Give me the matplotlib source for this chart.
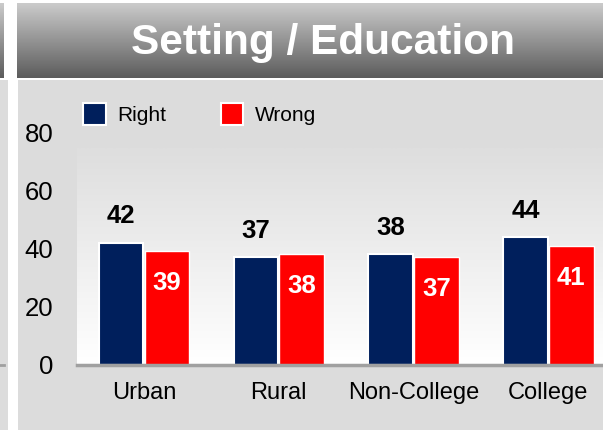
import numpy as np
import matplotlib.pyplot as plt
from matplotlib.colors import LinearSegmentedColormap
from matplotlib.patches import Rectangle
from matplotlib.lines import Line2D

plt.rcParams['font.family'] = ['Liberation Sans', 'DejaVu Sans']

categories = ["Urban", "Rural", "Non-College", "College"]
right_vals = [42, 37, 38, 44]
wrong_vals = [39, 38, 37, 41]
series_names = ["Right", "Wrong"]
title = "Setting / Education"

navy = "#001f5c"
red = "#ff0000"
panel = "#dcdcdc"

W, H = 603, 430
fig = plt.figure(figsize=(W / 100, H / 100), dpi=100)
fig.patch.set_facecolor("white")


def px(x0, y0, x1, y1):
    # pixel box (top-left origin) -> figure fraction rect
    return [x0 / W, 1 - y1 / H, (x1 - x0) / W, (y1 - y0) / H]


# background panels
fig.patches.append(Rectangle((0, 0), 8 / W, 1 - 80 / H, transform=fig.transFigure,
                             facecolor=panel, edgecolor="none", zorder=-5))
fig.patches.append(Rectangle((18 / W, 0), 1, 1 - 80 / H, transform=fig.transFigure,
                             facecolor=panel, edgecolor="none", zorder=-5))

# header bars with vertical gradient
head_cmap = LinearSegmentedColormap.from_list("head", ["#cbcbcb", "#5c5c5c"])
grad = np.linspace(0, 1, 100).reshape(-1, 1)
for rect in (px(0, 3, 4, 78), px(17, 3, 603, 78)):
    hax = fig.add_axes(rect)
    hax.imshow(grad, aspect="auto", cmap=head_cmap, extent=(0, 1, 0, 1))
    hax.axis("off")
hax.text(0.523, 0.47, title, color="white", fontsize=30.5, fontweight="bold",
         ha="center", va="center", transform=hax.transAxes)

# main plot
ax = fig.add_axes(px(77, 95, 603, 365))
ax.set_facecolor("none")
unit = 134.7
xmin = -(144 - 77) / unit
xmax = 3 + (603 - 548.4) / unit
ax.set_xlim(xmin, xmax)
ytop = 270 / 2.9125
ax.set_ylim(0, ytop)

plot_cmap = LinearSegmentedColormap.from_list("plot", ["#ffffff", "#dedede"])
ax.imshow(np.linspace(0, 1, 100).reshape(-1, 1), origin="lower", aspect="auto",
          cmap=plot_cmap, extent=(xmin, xmax, 0, 74.5), zorder=0)

x = np.arange(len(categories))
bw = 0.33
off = 0.17
ax.bar(x - off, right_vals, bw, color=navy, edgecolor="white", linewidth=1.5, zorder=2)
ax.bar(x + off, wrong_vals, bw, color=red, edgecolor="white", linewidth=1.0, zorder=2)

for xi, v in zip(x, right_vals):
    ax.text(xi - off, v + 9, str(v), ha="center", va="center", fontsize=18.5,
            fontweight="bold", color="black", zorder=3)
for xi, v in zip(x, wrong_vals):
    ax.text(xi + off, v - 11, str(v), ha="center", va="center", fontsize=18.5,
            fontweight="bold", color="white", zorder=3)

ax.set_xticks(x)
ax.set_xticklabels(categories, fontsize=17)
ax.set_yticks([0, 20, 40, 60, 80])
ax.set_yticklabels(["0", "20", "40", "60", "80"], fontsize=18.5)
ax.tick_params(axis="both", length=0)
ax.tick_params(axis="y", pad=17)
ax.tick_params(axis="x", pad=12)
for s in ["top", "right", "left"]:
    ax.spines[s].set_visible(False)
ax.spines["bottom"].set_color("#a0a0a0")
ax.spines["bottom"].set_linewidth(2.5)
ax.spines["bottom"].set_zorder(4)

handles = [Rectangle((0, 0), 1, 1, facecolor=navy, edgecolor="white", linewidth=1.5),
           Rectangle((0, 0), 1, 1, facecolor=red, edgecolor="white", linewidth=1.5)]
fig.legend(handles, series_names, loc="center left", bbox_to_anchor=(83 / W, 1 - 114 / H),
           ncol=2, frameon=False, fontsize=15, handlelength=1.1, handleheight=1.25,
           handletextpad=0.55, columnspacing=2.6, borderpad=0, borderaxespad=0)

fig.add_artist(Line2D([0, 4 / W], [1 - 365 / H, 1 - 365 / H], color="#a0a0a0", lw=2))

fig.savefig("out.png", dpi=100)
